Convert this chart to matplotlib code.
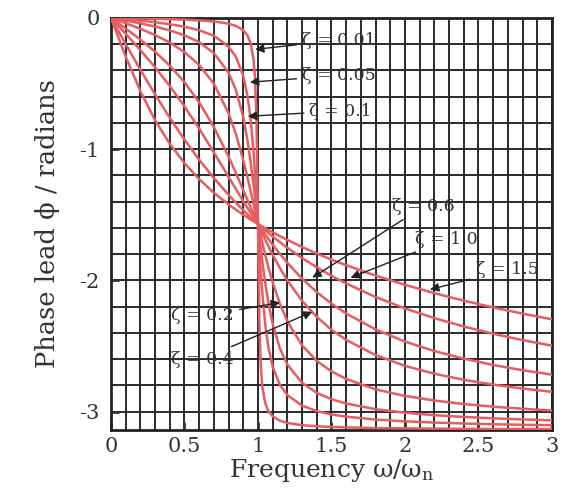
import matplotlib
matplotlib.use("Agg")
import matplotlib.pyplot as plt

# frequency ratio w/wn at which the curves were read
freq = [0, 0.1, 0.2, 0.3, 0.4, 0.5, 0.6, 0.7, 0.8, 0.85, 0.9, 0.93, 0.95,
        0.97, 0.98, 0.99, 1.0, 1.01, 1.02, 1.03, 1.05, 1.07, 1.1, 1.15,
        1.2, 1.3, 1.4, 1.5, 1.6, 1.8, 2.0, 2.2, 2.4, 2.6, 2.8, 3.0]

# phase lead (radians)
phase_001 = [0, -0.002, -0.004, -0.007, -0.010, -0.013, -0.019, -0.027,
             -0.044, -0.061, -0.094, -0.137, -0.193, -0.317, -0.460, -0.783,
             -1.571, -2.354, -2.674, -2.815, -2.940, -2.995, -3.037, -3.070,
             -3.087, -3.104, -3.112, -3.118, -3.121, -3.126, -3.128, -3.130,
             -3.132, -3.133, -3.133, -3.134]
phase_005 = [0, -0.010, -0.021, -0.033, -0.048, -0.067, -0.094, -0.136,
             -0.219, -0.297, -0.442, -0.603, -0.772, -1.024, -1.187, -1.372,
             -1.571, -1.767, -1.948, -2.105, -2.344, -2.506, -2.659, -2.799,
             -2.875, -2.955, -2.997, -3.022, -3.039, -3.061, -3.075, -3.084,
             -3.091, -3.097, -3.101, -3.104]
phase_01 = [0, -0.020, -0.042, -0.066, -0.095, -0.133, -0.185, -0.268,
            -0.418, -0.550, -0.758, -0.943, -1.097, -1.275, -1.371, -1.471,
            -1.571, -1.670, -1.766, -1.858, -2.025, -2.166, -2.333, -2.522,
            -2.642, -2.781, -2.858, -2.906, -2.939, -2.982, -3.009, -3.028,
            -3.041, -3.052, -3.060, -3.067]
phase_02 = [0, -0.040, -0.083, -0.131, -0.188, -0.261, -0.359, -0.502,
            -0.727, -0.886, -1.085, -1.222, -1.320, -1.420, -1.470, -1.521,
            -1.571, -1.621, -1.669, -1.718, -1.810, -1.897, -2.016, -2.182,
            -2.313, -2.496, -2.614, -2.694, -2.752, -2.831, -2.881, -2.916,
            -2.943, -2.963, -2.979, -2.993]
phase_04 = [0, -0.081, -0.165, -0.258, -0.364, -0.490, -0.644, -0.832,
            -1.058, -1.183, -1.313, -1.391, -1.443, -1.495, -1.520, -1.546,
            -1.571, -1.596, -1.620, -1.645, -1.692, -1.738, -1.805, -1.908,
            -2.001, -2.157, -2.279, -2.377, -2.454, -2.570, -2.652, -2.712,
            -2.758, -2.795, -2.825, -2.850]
phase_06 = [0, -0.121, -0.245, -0.377, -0.519, -0.675, -0.844, -1.025,
            -1.212, -1.305, -1.397, -1.450, -1.485, -1.520, -1.537, -1.554,
            -1.571, -1.587, -1.604, -1.620, -1.652, -1.683, -1.729, -1.800,
            -1.867, -1.987, -2.090, -2.178, -2.253, -2.374, -2.467, -2.539,
            -2.597, -2.645, -2.685, -2.719]
phase_10 = [0, -0.199, -0.395, -0.583, -0.761, -0.927, -1.081, -1.221,
            -1.349, -1.409, -1.466, -1.498, -1.520, -1.540, -1.551, -1.561,
            -1.571, -1.581, -1.591, -1.600, -1.620, -1.638, -1.666, -1.710,
            -1.752, -1.830, -1.901, -1.966, -2.024, -2.127, -2.214, -2.288,
            -2.352, -2.407, -2.456, -2.498]
phase_15 = [0, -0.294, -0.559, -0.780, -0.960, -1.107, -1.229, -1.333,
            -1.422, -1.462, -1.501, -1.522, -1.537, -1.550, -1.557, -1.564,
            -1.571, -1.577, -1.584, -1.591, -1.603, -1.616, -1.634, -1.664,
            -1.692, -1.746, -1.796, -1.842, -1.885, -1.964, -2.034, -2.098,
            -2.155, -2.207, -2.254, -2.297]

curves = [phase_001, phase_005, phase_01, phase_02,
          phase_04, phase_06, phase_10, phase_15]

# (label, arrow tip (r, phase), text position (r, phase))
labels = [("ζ = 0.01", (0.98, -0.24), (1.30, -0.17)),
          ("ζ = 0.05", (0.945, -0.49), (1.30, -0.44)),
          ("ζ = 0.1", (0.93, -0.75), (1.35, -0.71)),
          ("ζ = 0.6", (1.37, -1.98), (1.91, -1.44)),
          ("ζ = 1.0", (1.63, -1.98), (2.07, -1.69)),
          ("ζ = 1.5", (2.17, -2.07), (2.48, -1.92)),
          ("ζ = 0.2", (1.15, -2.17), (0.41, -2.27)),
          ("ζ = 0.4", (1.37, -2.24), (0.41, -2.60))]

plt.rcParams['font.family'] = ['DejaVu Serif']
plt.rcParams['mathtext.fontset'] = 'dejavuserif'

fig = plt.figure(figsize=(5.78, 4.97), dpi=100)
ax = fig.add_axes([0.192, 0.135, 0.763, 0.829])

for ph in curves:
    ax.plot(freq, ph, color='#e65c60', lw=1.8, zorder=3)

for text, tip, pos in labels:
    ax.annotate(text, xy=tip, xytext=pos, fontsize=12.5, color='#333333',
                ha='left', va='center', zorder=4,
                arrowprops=dict(arrowstyle='-|>', color='#222222', lw=1,
                                mutation_scale=13, shrinkA=2, shrinkB=0))

ax.set_xlim(0, 3)
ax.set_ylim(-3.14, 0)
ax.set_xticks([0, 0.5, 1, 1.5, 2, 2.5, 3])
ax.set_xticklabels(['0', '0.5', '1', '1.5', '2', '2.5', '3'])
ax.set_yticks([-3, -2, -1, 0])
ax.set_yticklabels(['-3', '-2', '-1', '0'])
ax.set_xticks([i / 10 for i in range(31)], minor=True)
ax.set_yticks([-i / 5 for i in range(16)], minor=True)
ax.grid(True, which='both', color='#2a2a2a', lw=1.4, zorder=1)
ax.set_axisbelow(True)
ax.tick_params(which='major', direction='in', length=6, width=2,
               labelsize=15, colors='#333333', pad=5)
ax.tick_params(which='minor', length=0)
ax.tick_params(axis='y', pad=8)
for sp in ax.spines.values():
    sp.set_linewidth(2)
    sp.set_color('#222222')

ax.set_xlabel('Frequency ω/ω$_{\\mathrm{n}}$', fontsize=18, color='#333333',
              labelpad=1)
ax.set_ylabel('Phase lead ϕ / radians', fontsize=18.5, color='#333333',
              labelpad=14)

plt.savefig('out.png', dpi=100)
